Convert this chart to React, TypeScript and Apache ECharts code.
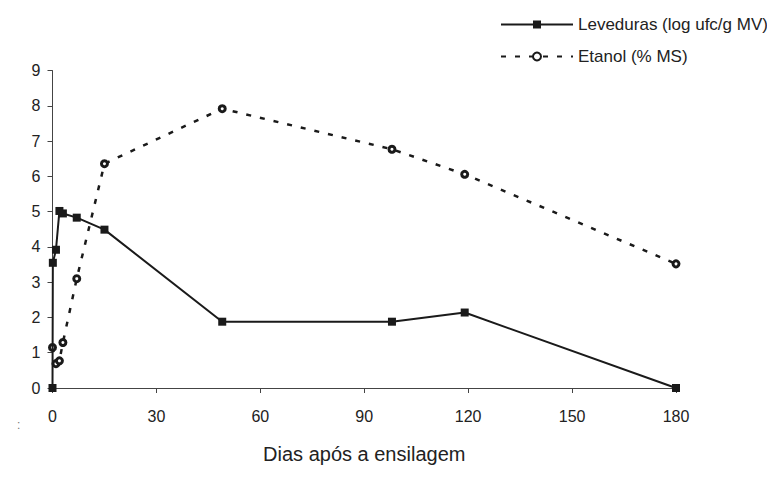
import React, { useEffect, useRef } from "react";
import * as echarts from "echarts";

const levDays = [0, 0.1, 1, 2, 3, 7, 15, 49, 98, 119, 180];
const levValues = [0, 3.55, 3.92, 5.02, 4.95, 4.83, 4.49, 1.88, 1.88, 2.14, 0];
const etaDays = [0, 1, 2, 3, 7, 15, 49, 98, 119, 180];
const etaValues = [1.15, 0.69, 0.77, 1.29, 3.1, 6.36, 7.92, 6.77, 6.06, 3.52];
const seriesNames = ["Leveduras (log ufc/g MV)", "Etanol (% MS)"];
const xTitle = "Dias após a ensilagem";

const FONT = "'Liberation Sans', Arial, sans-serif";

export default function App() {
  const ref = useRef<HTMLDivElement>(null);
  useEffect(() => {
    if (!ref.current) return;
    const chart = echarts.init(ref.current, undefined, { renderer: "svg" });
    chart.setOption({
      animation: false,
      backgroundColor: "#ffffff",
      textStyle: { fontFamily: FONT },
      grid: { left: 44.5, right: 91, top: 62.6, bottom: 69.5, containLabel: false },
      legend: {
        orient: "vertical",
        left: 487,
        top: 3,
        itemWidth: 72,
        itemHeight: 10,
        itemGap: 15,
        textStyle: { fontSize: 17, color: "#222", fontFamily: FONT },
        data: seriesNames,
      },
      xAxis: {
        type: "value",
        min: 0,
        max: 180,
        interval: 30,
        name: xTitle,
        nameLocation: "middle",
        nameGap: 56,
        nameTextStyle: { fontSize: 20, color: "#222", fontFamily: FONT },
        axisLine: { show: true, lineStyle: { color: "#444", width: 1 } },
        axisTick: { show: true, length: 5, lineStyle: { color: "#444" } },
        axisLabel: { fontSize: 16, color: "#222", margin: 20, fontFamily: FONT },
        splitLine: { show: false },
      },
      yAxis: {
        type: "value",
        min: 0,
        max: 9,
        interval: 1,
        axisLine: { show: true, lineStyle: { color: "#444", width: 1 } },
        axisTick: { show: true, length: 5, lineStyle: { color: "#444" } },
        axisLabel: { fontSize: 16, color: "#222", margin: 12, fontFamily: FONT },
        splitLine: { show: false },
      },
      series: [
        {
          name: seriesNames[0],
          type: "line",
          data: levDays.map((d, i) => [d, levValues[i]]),
          symbol: "rect",
          symbolSize: 8,
          lineStyle: { color: "#1a1a1a", width: 2 },
          itemStyle: { color: "#1a1a1a" },
          z: 3,
        },
        {
          name: seriesNames[1],
          type: "line",
          data: etaDays.map((d, i) => [d, etaValues[i]]),
          symbol: "circle",
          symbolSize: 6,
          lineStyle: { color: "#1a1a1a", width: 2.5, type: [5, 9] },
          itemStyle: { color: "#ffffff", borderColor: "#1a1a1a", borderWidth: 3 },
          z: 2,
        },
      ],
      graphic: [
        {
          type: "text",
          left: 9,
          top: 411,
          style: { text: ":", fontSize: 12, fill: "#777", fontFamily: FONT },
        },
      ],
    });
    return () => chart.dispose();
  }, []);
  return <div ref={ref} style={{ width: 759, height: 461 }} />;
}
